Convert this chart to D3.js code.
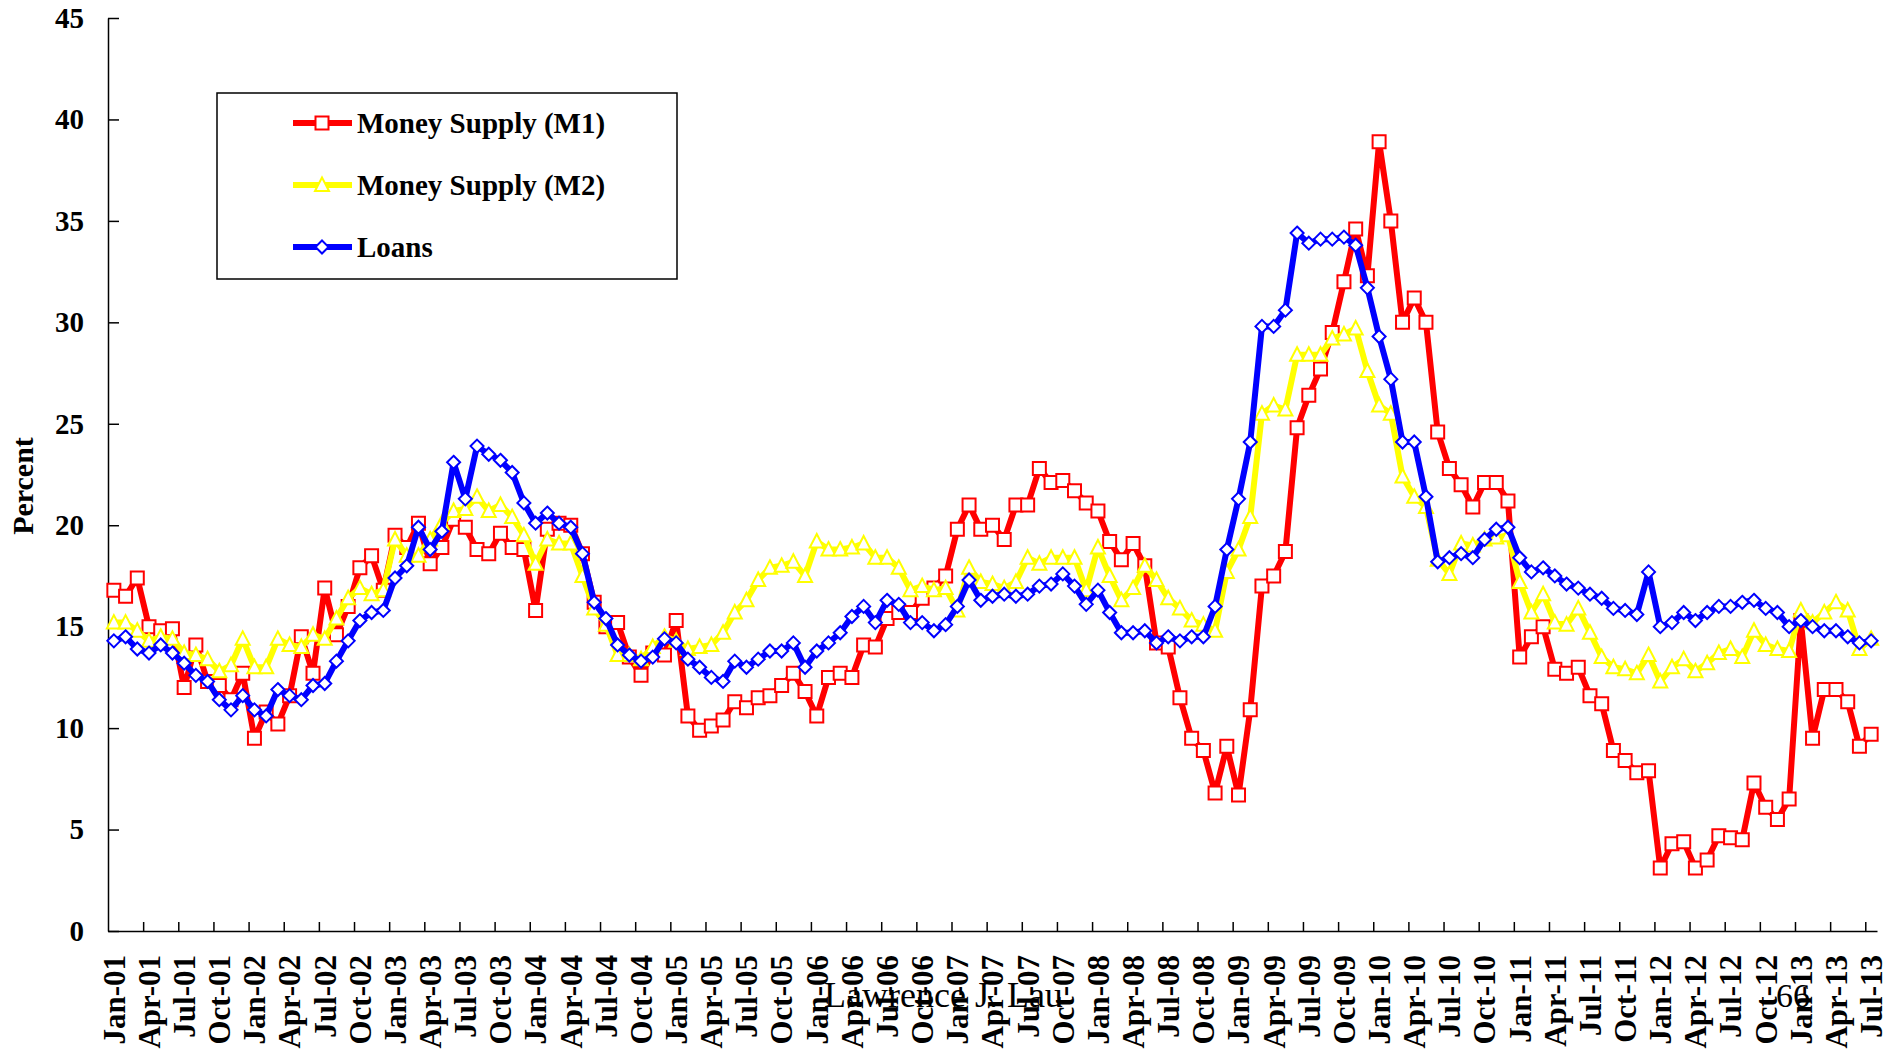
<!DOCTYPE html>
<html>
<head>
<meta charset="utf-8">
<style>
html, body {
  margin: 0;
  background: #fff;
  overflow: hidden;
}
text {
  font-family: "Liberation Serif", "Times New Roman", serif;
  fill: #000;
}
.axis text, .ylabel, .legend text {
  font-weight: bold;
}
.axis path, .axis line {
  stroke: #000;
  stroke-width: 1.5px;
}
</style>
<script src="https://d3js.org/d3.v7.min.js"></script>
</head>
<body>
<svg id="chart" width="1887" height="1049"></svg>
<script>
// monthly, Jan-01 .. Jul-13
var monthNames = ["Jan","Feb","Mar","Apr","May","Jun","Jul","Aug","Sep","Oct","Nov","Dec"];
var years = ["01","02","03","04","05","06","07","08","09","10","11","12","13"];

var m1 = [16.8,16.5,17.4,15.0,14.8,14.9,12.0,14.1,12.3,12.1,11.4,12.7,
          9.5,10.8,10.2,11.6,14.5,12.7,16.9,14.6,16.0,17.9,18.5,16.8,
          19.5,18.9,20.1,18.1,18.9,20.3,19.9,18.8,18.6,19.6,18.9,18.8,
          15.8,19.8,20.1,20.0,18.6,16.2,15.0,15.2,13.5,12.6,13.7,13.6,
          15.3,10.6,9.9,10.1,10.4,11.3,11.0,11.5,11.6,12.1,12.7,11.8,
          10.6,12.5,12.7,12.5,14.1,14.0,15.4,15.7,15.7,16.4,16.9,17.5,
          19.8,21.0,19.8,20.0,19.3,21.0,21.0,22.8,22.1,22.2,21.7,21.1,
          20.7,19.2,18.3,19.1,18.0,14.2,14.0,11.5,9.5,8.9,6.8,9.1,
          6.7,10.9,17.0,17.5,18.7,24.8,26.4,27.7,29.5,32.0,34.6,32.3,
          38.9,35.0,30.0,31.2,30.0,24.6,22.8,22.0,20.9,22.1,22.1,21.2,
          13.5,14.5,15.0,12.9,12.7,13.0,11.6,11.2,8.9,8.4,7.8,7.9,
          3.1,4.3,4.4,3.1,3.5,4.7,4.6,4.5,7.3,6.1,5.5,6.5,
          15.3,9.5,11.9,11.9,11.3,9.1,9.7];

var m2 = [15.2,15.2,14.8,14.3,14.5,14.4,13.7,13.6,13.4,12.8,13.1,14.4,
          13.0,13.0,14.4,14.1,14.0,14.6,14.4,15.4,16.4,16.9,16.6,16.8,
          19.3,18.5,18.5,19.3,20.1,20.7,20.8,21.4,20.7,21.0,20.4,19.5,
          18.1,19.3,19.1,19.1,17.5,15.9,15.1,13.6,13.6,13.4,14.0,14.5,
          14.3,13.9,14.0,14.1,14.7,15.7,16.3,17.3,17.9,18.0,18.2,17.5,
          19.2,18.8,18.8,18.9,19.1,18.4,18.4,17.9,16.8,17.0,16.8,16.9,
          15.8,17.9,17.2,17.1,16.9,17.2,18.4,18.1,18.4,18.4,18.4,16.8,
          18.9,17.5,16.3,16.9,18.0,17.3,16.4,15.9,15.3,15.1,14.8,17.7,
          18.8,20.4,25.5,25.9,25.7,28.4,28.4,28.4,29.2,29.4,29.7,27.6,
          25.9,25.5,22.4,21.4,20.9,18.3,17.6,19.1,19.0,19.3,19.4,19.5,
          17.2,15.7,16.6,15.2,15.1,15.9,14.7,13.5,13.0,12.9,12.7,13.6,
          12.3,13.0,13.4,12.8,13.2,13.7,13.9,13.5,14.8,14.1,13.9,13.8,
          15.8,15.2,15.7,16.2,15.8,13.9,14.4];

var loans = [14.3,14.5,13.9,13.7,14.1,13.7,13.2,12.6,12.3,11.4,10.9,11.6,
             10.9,10.6,11.9,11.6,11.4,12.1,12.2,13.3,14.3,15.3,15.7,15.8,
             17.4,18.0,19.9,18.8,19.7,23.1,21.3,23.9,23.5,23.2,22.6,21.1,
             20.1,20.6,20.1,19.9,18.6,16.2,15.4,14.1,13.6,13.3,13.5,14.4,
             14.2,13.4,13.0,12.5,12.3,13.3,13.0,13.4,13.8,13.8,14.2,13.0,
             13.8,14.2,14.7,15.5,16.0,15.2,16.3,16.1,15.2,15.2,14.8,15.1,
             16.0,17.3,16.3,16.5,16.6,16.5,16.6,17.0,17.1,17.6,17.0,16.1,
             16.8,15.7,14.7,14.7,14.8,14.2,14.5,14.3,14.5,14.5,16.0,18.8,
             21.3,24.1,29.8,29.8,30.6,34.4,33.9,34.1,34.1,34.2,33.8,31.7,
             29.3,27.2,24.1,24.1,21.4,18.2,18.4,18.6,18.4,19.3,19.8,19.9,
             18.4,17.7,17.9,17.5,17.1,16.9,16.6,16.4,15.9,15.8,15.6,17.7,
             15.0,15.2,15.7,15.3,15.7,16.0,16.0,16.2,16.3,15.9,15.7,15.0,
             15.3,15.0,14.8,14.8,14.5,14.2,14.3];

var yTicks = [0, 5, 10, 15, 20, 25, 30, 35, 40, 45];

var categories = [];
years.forEach(function(yy) {
  monthNames.forEach(function(mm) { categories.push(mm + "-" + yy); });
});
categories = categories.slice(0, m1.length);
var tickLabels = categories.filter(function(d, i) { return i % 3 === 0; });

var series = [
  {name: "Money Supply (M1)", values: m1, color: "#ff0000", marker: "square"},
  {name: "Money Supply (M2)", values: m2, color: "#ffff00", marker: "triangle"},
  {name: "Loans", values: loans, color: "#0000ff", marker: "diamond"}
];

var plotLeft = 108, plotRight = 1877, plotTop = 18, plotBottom = 931;

var svg = d3.select("#chart");

var x = d3.scaleBand().domain(categories).range([plotLeft, plotRight]).padding(0);
var xEdge = d3.scaleLinear().domain([0, categories.length]).range([plotLeft, plotRight]);
var y = d3.scaleLinear().domain([0, 45]).range([plotBottom, plotTop]);

function cx(i) { return x(categories[i]) + x.bandwidth() / 2; }

function markerPath(kind) {
  if (kind === "square") return "M-6.5,-6.5H6.5V6.5H-6.5Z";
  if (kind === "triangle") return "M0,-7.5L7,6H-7Z";
  return "M0,-6.5L6.5,0L0,6.5L-6.5,0Z";
}

// y axis, ticks inside
svg.append("g")
    .attr("class", "axis")
    .attr("transform", "translate(" + plotLeft + ",0)")
    .call(d3.axisLeft(y).tickValues(yTicks).tickSizeInner(-11).tickSizeOuter(0).tickPadding(24))
    .call(function(g) {
      g.selectAll("text").style("font-size", "29px");
    });

// x axis: boundary ticks every 3 months
svg.append("g")
    .attr("class", "axis")
    .attr("transform", "translate(0," + plotBottom + ")")
    .call(d3.axisBottom(xEdge)
      .tickValues(d3.range(3, categories.length, 3))
      .tickSizeInner(-9).tickSizeOuter(0).tickFormat(""));

// x labels
svg.append("g")
    .attr("class", "axis")
    .attr("transform", "translate(0," + plotBottom + ")")
    .call(d3.axisBottom(x).tickValues(tickLabels).tickSize(0))
    .call(function(g) {
      g.select(".domain").remove();
      g.selectAll("text")
        .attr("transform", "rotate(-90)")
        .attr("x", -24)
        .attr("y", 0)
        .attr("dy", "0.35em")
        .attr("text-anchor", "end")
        .style("font-size", "31px");
    });

svg.append("text")
    .attr("class", "ylabel")
    .attr("transform", "translate(22,486) rotate(-90)")
    .attr("text-anchor", "middle")
    .attr("dy", "0.35em")
    .style("font-size", "30px")
    .text("Percent");

var line = d3.line()
    .x(function(d, i) { return cx(i); })
    .y(function(d) { return y(d); });

series.forEach(function(s) {
  var g = svg.append("g");
  g.append("path")
      .datum(s.values)
      .attr("d", line)
      .attr("fill", "none")
      .attr("stroke", s.color)
      .attr("stroke-width", 6)
      .attr("stroke-linejoin", "round");
  g.selectAll("path.mk")
    .data(s.values)
    .enter().append("path")
      .attr("class", "mk")
      .attr("d", markerPath(s.marker))
      .attr("transform", function(d, i) { return "translate(" + cx(i) + "," + y(d) + ")"; })
      .attr("fill", "#fff")
      .attr("stroke", s.color)
      .attr("stroke-width", 2);
});

// legend
var legend = svg.append("g").attr("class", "legend");
legend.append("rect")
    .attr("x", 217).attr("y", 93)
    .attr("width", 460).attr("height", 186)
    .attr("fill", "#fff")
    .attr("stroke", "#000")
    .attr("stroke-width", 1.5);

var item = legend.selectAll("g.item")
    .data(series)
    .enter().append("g")
    .attr("class", "item")
    .attr("transform", function(d, i) { return "translate(0," + (123 + i * 62) + ")"; });

item.append("line")
    .attr("x1", 293).attr("x2", 352)
    .attr("stroke", function(d) { return d.color; })
    .attr("stroke-width", 6);
item.append("path")
    .attr("d", function(d) { return markerPath(d.marker); })
    .attr("transform", "translate(322,0)")
    .attr("fill", "#fff")
    .attr("stroke", function(d) { return d.color; })
    .attr("stroke-width", 2);
item.append("text")
    .attr("x", 357)
    .attr("dy", "0.35em")
    .style("font-size", "29px")
    .text(function(d) { return d.name; });

// footer
svg.append("text")
    .attr("x", 824).attr("y", 1007)
    .style("font-size", "36px")
    .text("Lawrence J. Lau");
svg.append("text")
    .attr("x", 1776).attr("y", 1007)
    .style("font-size", "34px")
    .text("66");
</script>
</body>
</html>
